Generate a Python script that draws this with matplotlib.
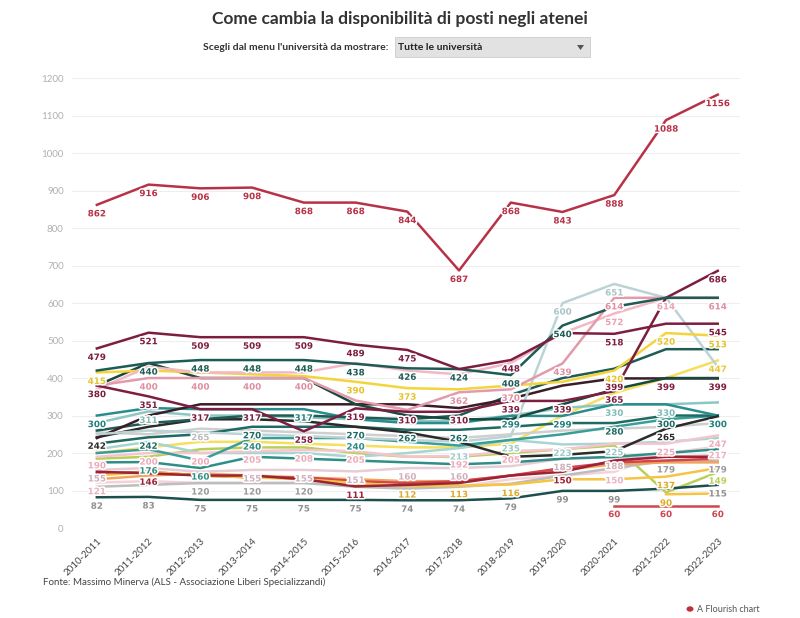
import matplotlib
matplotlib.use("Agg")
import matplotlib.pyplot as plt
import matplotlib.patheffects as pe
from matplotlib.patches import Rectangle, Polygon, Circle

plt.rcParams['font.family'] = ['Lato', 'DejaVu Sans']

anni = ["2010-2011", "2011-2012", "2012-2013", "2013-2014", "2014-2015",
        "2015-2016", "2016-2017", "2017-2018", "2018-2019", "2019-2020",
        "2020-2021", "2021-2022", "2022-2023"]

# valori (None = nessun dato)
rosso_top = [862, 916, 906, 908, 868, 868, 844, 687, 868, 843, 888, 1088, 1156]
bordeaux = [479, 521, 509, 509, 509, 489, 475, 424, 448, 520, 518, 545, 545]
verde_scuro = [420, 440, 448, 448, 448, 438, 426, 424, 408, 540, 590, 614, 614]
bordeaux2 = [380, 351, 317, 317, 258, 319, 310, 310, 339, 339, 365, 614, 686]
rosa = [380, 400, 400, 400, 400, 340, 315, 362, 370, 439, 614, 614, 614]
rosa_chiaro = [370, 430, 415, 415, 415, 440, 420, 410, 440, 520, 572, 614, 614]
giallo = [415, 420, 415, 410, 405, 390, 373, 370, 380, 390, 420, 520, 513]
grigio_azzurro = [250, 260, 255, 250, 245, 240, 235, 230, 245, 600, 651, 614, 430]
verde_bosco = [380, 440, 400, 400, 400, 330, 300, 290, 290, 330, 370, 400, 400]
nero_399 = [240, 300, 330, 330, 330, 330, 330, 320, 345, 380, 399, 399, 399]
petrolio = [260, 280, 290, 300, 300, 295, 290, 300, 355, 400, 425, 477, 477]
ottanio = [300, 320, 317, 317, 317, 290, 280, 280, 299, 299, 330, 330, 300]
acqua = [280, 311, 300, 300, 295, 290, 285, 285, 300, 320, 330, 330, 335]
verde_teal = [225, 242, 250, 270, 270, 270, 262, 262, 270, 280, 280, 300, 300]
teal_medio = [200, 210, 180, 240, 240, 240, 230, 220, 235, 250, 270, 290, 300]
grigio_chiaro = [255, 250, 265, 260, 255, 250, 245, 240, 250, 260, 265, 270, 280]
rosa_pallido = [190, 200, 200, 205, 208, 205, 190, 192, 205, 210, 225, 225, 247]
teal_basso = [175, 176, 160, 190, 185, 180, 175, 170, 175, 185, 190, 200, 210]
acqua_chiara = [210, 230, 200, 200, 200, 190, 200, 213, 235, 223, 225, 230, 240]
lilla = [155, 160, 150, 155, 155, 151, 160, 160, 165, 185, 188, 190, 195]
rosso_scuro = [150, 146, 140, 140, 130, 111, 115, 120, 140, 150, 180, 190, 190]
rosso = [145, 150, 140, 135, 135, 125, 120, 125, 140, 160, 175, 180, 185]
arancio = [130, 140, 145, 140, 135, 130, 125, 125, 140, 155, 170, 175, 175]
ocra = [140, 150, 140, 135, 130, 120, 112, 113, 116, 130, 130, 137, 160]
rosa_tenue = [121, 125, 120, 120, 120, 115, 110, 110, 130, 140, 150, 200, 217]
grigio = [110, 115, 120, 120, 120, 110, 105, 110, 118, 140, 160, 179, 179]
giallo_chiaro = [200, 215, 230, 230, 225, 220, 215, 215, 225, 300, 360, 400, 447]
nero = [242, 270, 290, 290, 285, 270, 255, 230, 190, 195, 205, 265, 298]
lime = [185, 190, 210, 215, 215, 200, 190, 190, 200, 210, 220, 95, 149]
fondo = [82, 83, 75, 75, 75, 75, 74, 74, 79, 99, 99, 105, 115]
rosso_60 = [None, None, None, None, None, None, None, None, None, None, 60, 60, 60]
giallo_90 = [None, None, None, None, None, None, None, None, None, None, None, 90, 92]

# (valori, colore linea, colore etichette, punti etichettati)
serie = [
    (lime, "#b9cf5a", "#b9cf5a", [12]),
    (giallo_chiaro, "#f6df5c", "#e6c93a", [12]),
    (grigio_chiaro, "#cfcfcf", "#bdbdbd", [2]),
    (acqua_chiara, "#a7d5d1", "#9ccbc7", [7, 8, 9, 10]),
    (rosa_pallido, "#f5c5cf", "#eeaab8", [0, 1, 2, 3, 4, 5, 7, 8, 11, 12]),
    (lilla, "#e6ccd4", "#cfb0ba", [0, 3, 4, 5, 6, 7, 9, 10]),
    (rosa_tenue, "#f4d2d9", "#e9b2bf", [0, 10, 12]),
    (grigio, "#bdbdbd", "#9a9a9a", [2, 3, 4, 11, 12]),
    (arancio, "#f1a45c", "#e08a3a", []),
    (rosso, "#d2474f", "#c43a44", []),
    (ocra, "#f5c443", "#e0aa25", [6, 7, 8, 11]),
    (rosso_scuro, "#9c2236", "#9c2236", [1, 5, 9]),
    (teal_basso, "#2f8f86", "#2f8f86", [1, 2]),
    (teal_medio, "#3a9e98", "#2b8a84", [3, 5]),
    (verde_teal, "#1f6b63", "#1f6b63", [1, 3, 5, 6, 7, 10, 11]),
    (acqua, "#8cc7c4", "#7fbab7", [1, 10, 11]),
    (ottanio, "#2a8c8c", "#247f7f", [0, 4, 8, 9, 12]),
    (nero, "#2b2b2b", "#2b2b2b", [0, 11]),
    (petrolio, "#1f5c55", "#1f5c55", []),
    (nero_399, "#3b1d27", "#7d1d3f", [10, 11, 12]),
    (verde_bosco, "#174a3f", "#174a3f", []),
    (grigio_azzurro, "#bcd3d5", "#a9c4c6", [9, 10]),
    (giallo, "#f3d43c", "#e6c22a", [0, 5, 6, 10, 11, 12]),
    (rosa_chiaro, "#f2b8c6", "#e9a2b4", [10, 11]),
    (rosa, "#e39aab", "#df8ea1", [1, 2, 3, 4, 7, 8, 9, 10, 12]),
    (bordeaux2, "#7d1d3f", "#7d1d3f", [0, 1, 2, 3, 4, 5, 6, 7, 8, 9, 10, 12]),
    (verde_scuro, "#1d5c55", "#1d5c55", [1, 2, 3, 4, 5, 6, 7, 8, 9]),
    (bordeaux, "#7d1d3f", "#7d1d3f", [0, 1, 2, 3, 4, 5, 6, 8, 10, 12]),
    (fondo, "#1d4f4f", "#8f8f8f", [0, 1, 2, 3, 4, 5, 6, 7, 8, 9, 10, 12]),
    (rosso_60, "#d0464f", "#d0464f", [10, 11, 12]),
    (giallo_90, "#f5c443", "#e0aa25", [11]),
    (rosso_top, "#b83247", "#b83247", list(range(13))),
]

fig = plt.figure(figsize=(8, 6.18), dpi=100)
ax = fig.add_axes([0.09, 0.1456, 0.835, 0.728])

x = list(range(len(anni)))
halo = [pe.withStroke(linewidth=2.2, foreground="white")]
for valori, col, col_lab, punti in serie:
    xs = [i for i, v in zip(x, valori) if v is not None]
    ys = [v for v in valori if v is not None]
    ax.plot(xs, ys, color=col, lw=1.8, solid_joinstyle="round", zorder=2)
    for i in punti:
        if valori[i] is None:
            continue
        ax.annotate(str(valori[i]), (i, valori[i]), xytext=(0, -6.5),
                    textcoords="offset points", ha="center", va="center",
                    fontsize=6.3, fontweight="bold", color=col_lab,
                    family="DejaVu Sans", path_effects=halo, zorder=3)

ax.set_xlim(-0.48, 12.43)
ax.set_ylim(0, 1200)
ax.set_yticks(range(0, 1201, 100))
ax.set_yticklabels([str(v) for v in range(0, 1201, 100)], color="#b0b0b0", fontsize=7)
ax.set_xticks(x)
ax.set_xticklabels(anni, rotation=45, ha="right", rotation_mode="anchor",
                   fontsize=7, color="#444444")
ax.grid(axis="y", color="#eeeeee", lw=0.8)
ax.set_axisbelow(True)
ax.tick_params(length=0, pad=6)
for s in ax.spines.values():
    s.set_visible(False)

fig.text(0.5, 0.97, "Come cambia la disponibilità di posti negli atenei",
         ha="center", va="center", fontsize=12.5, fontweight="bold", color="#333333")
fig.text(388 / 800, 1 - 47 / 618, "Scegli dal menu l'università da mostrare:",
         ha="right", va="center", fontsize=7.5, fontweight="bold", color="#333333")
fig.patches.append(Rectangle((395 / 800, 1 - 57 / 618), 195 / 800, 20 / 618,
                             transform=fig.transFigure, facecolor="#e2e2e2",
                             edgecolor="#cccccc", lw=0.6))
fig.text(398 / 800, 1 - 47 / 618, "Tutte le università", ha="left", va="center",
         fontsize=7.5, fontweight="bold", color="#222222")
fig.patches.append(Polygon([(577 / 800, 1 - 45 / 618), (584 / 800, 1 - 45 / 618),
                            (580.5 / 800, 1 - 50 / 618)], closed=True,
                           transform=fig.transFigure, facecolor="#555555"))
fig.text(43 / 800, 1 - 582 / 618, "Fonte: Massimo Minerva (ALS - Associazione Liberi Specializzandi)",
         ha="left", va="center", fontsize=7, color="#444444")
fig.patches.append(Circle((690 / 800, 1 - 609 / 618), 3.5 / 800,
                          transform=fig.transFigure, facecolor="#c0303a"))
fig.text(697 / 800, 1 - 609 / 618, "A Flourish chart", ha="left", va="center",
         fontsize=6.5, color="#555555")

fig.savefig("out.png", dpi=100)
